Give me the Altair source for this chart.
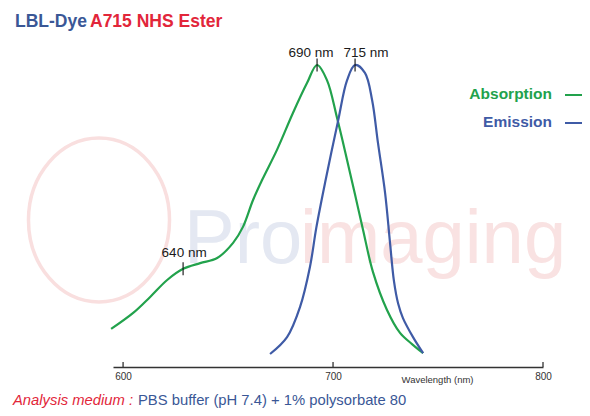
import altair as alt
import pandas as pd

# ---- data ----
abs_nm = [594.3, 604.8, 612.9, 621.0, 628.6, 636.7, 644.8, 652.4, 657.1, 661.9, 666.2,
          673.3, 680.9, 687.6, 692.4, 697.1, 701.9, 706.7, 710.5, 714.3, 719.0, 725.7,
          731.9, 737.6, 742.9]
abs_val = [12.6, 17.9, 23.2, 28.8, 32.5, 34.4, 36.1, 41.1, 46.4, 55.3, 61.9,
           71.9, 84.1, 94.0, 100.0, 95.0, 82.5, 68.5, 57.0, 45.4, 31.5, 18.9,
           11.3, 7.6, 4.6]
em_nm = [670.0, 678.1, 684.3, 689.0, 692.0, 696.2, 702.4, 706.7, 710.5, 715.2, 718.6,
         721.4, 724.8, 727.1, 729.0, 731.0, 733.3, 738.1, 742.9]
em_val = [4.3, 9.9, 19.9, 33.1, 46.0, 61.0, 81.5, 95.0, 100.0, 97.4, 88.4,
          74.2, 57.6, 41.4, 28.5, 21.0, 16.2, 9.9, 4.6]

series = ["Absorption", "Emission"]
series_colors = ["#22a24c", "#3f5ba6"]

peak_labels = ["640 nm", "690 nm", "715 nm"]
peak_nm = [628.6, 692.4, 710.5]
peak_val = [32.5, 100.0, 100.0]

tick_values = [600, 700, 800]

title_parts = ["LBL-Dye", "A715 NHS Ester"]
medium_parts = ["Analysis medium :", "PBS buffer (pH 7.4) + 1% polysorbate 80"]
watermark_parts = ["Pro", "imaging"]

# ---- tables ----
curves = pd.concat([
    pd.DataFrame({"nm": abs_nm, "val": abs_val, "series": series[0]}),
    pd.DataFrame({"nm": em_nm, "val": em_val, "series": series[1]}),
])
peaks = pd.DataFrame({"label": peak_labels, "nm": peak_nm, "val": peak_val})
ticks = pd.DataFrame({"nm": tick_values})

W, H = 430, 302
FONT = "Liberation Sans"

xscale = alt.Scale(domain=[595.2, 800], nice=False, zero=False)
yscale = alt.Scale(domain=[0, 100], nice=False, zero=False)
cscale = alt.Scale(domain=series, range=series_colors)

one = pd.DataFrame({"k": [0]})


def txt(s, x, y, **kw):
    return alt.Chart(one).mark_text(text=s, **kw).encode(x=alt.value(x), y=alt.value(y))


layers = []

# watermark
layers.append(txt(watermark_parts[0], 71, 198, font=FONT, fontSize=76, color="#e4e8f2", align="left", baseline="alphabetic"))
layers.append(txt(watermark_parts[1], 187, 198, font=FONT, fontSize=76, color="#f9e2e2", align="left", baseline="alphabetic"))
ellipse = "M -0.86 0 A 0.86 1 0 1 1 0.86 0 A 0.86 1 0 1 1 -0.86 0 Z"
layers.append(alt.Chart(one).mark_point(shape=ellipse, size=26896, filled=False, stroke="#f9dfdf", strokeWidth=3.5, opacity=1)
              .encode(x=alt.value(-14), y=alt.value(155)))

# curves
base_x = alt.X("nm:Q", scale=xscale,
               axis=alt.Axis(values=tick_values, format="d", grid=False, ticks=False,
                             domainColor="#333333", domainWidth=1.5, labelFlush=False,
                             labelFont=FONT, labelFontSize=10, labelColor="#333333", labelPadding=4,
                             title="Wavelength (nm)", titleFont=FONT, titleFontSize=9.5,
                             titleFontWeight="normal", titleColor="#333333",
                             titleX=324, titleY=15, titleAlign="center", titleBaseline="alphabetic"))
layers.append(alt.Chart(curves).mark_line(interpolate="catmull-rom", strokeWidth=2.2, clip=False).encode(
    x=base_x,
    y=alt.Y("val:Q", scale=yscale, axis=None),
    color=alt.Color("series:N", scale=cscale, legend=None),
    detail="series:N",
))

# axis ticks (pointing up)
layers.append(alt.Chart(ticks).mark_rule(color="#333333", strokeWidth=1.3).encode(
    x=alt.X("nm:Q", scale=xscale), y=alt.value(H - 5), y2=alt.value(H)))

# peak markers
layers.append(alt.Chart(peaks).mark_tick(orient="vertical", size=13, thickness=1.6, color="#111111").encode(
    x=alt.X("nm:Q", scale=xscale), y=alt.Y("val:Q", scale=yscale)))
label_dx = [1, -6, 11]
label_dy = [-12, -8, -8]
for i in range(len(peak_labels)):
    layers.append(alt.Chart(peaks.iloc[[i]]).mark_text(font=FONT, fontSize=13.5, color="#1a1a1a",
                                                       align="center", baseline="alphabetic",
                                                       dx=label_dx[i], dy=label_dy[i]).encode(
        x=alt.X("nm:Q", scale=xscale), y=alt.Y("val:Q", scale=yscale), text="label:N"))

# title
layers.append(txt(title_parts[0], -98, -38, font=FONT, fontSize=17.5, fontWeight="bold", color="#3a5796", align="left", baseline="alphabetic"))
layers.append(txt(title_parts[1], -23, -38, font=FONT, fontSize=17.5, fontWeight="bold", color="#e2263a", align="left", baseline="alphabetic"))

# legend
leg_y = [34, 62]
for i, s in enumerate(series):
    layers.append(txt(s, 439, leg_y[i], font=FONT, fontSize=15.5, fontWeight="bold", color=series_colors[i], align="right", baseline="alphabetic"))
    layers.append(alt.Chart(one).mark_rule(color=series_colors[i], strokeWidth=2).encode(
        x=alt.value(452), x2=alt.value(472), y=alt.value(leg_y[i] - 4)))

# bottom note
layers.append(txt(medium_parts[0], -100, 340, font=FONT, fontSize=14.8, fontStyle="italic", color="#e2263a", align="left", baseline="alphabetic"))
layers.append(txt(medium_parts[1], 25, 340, font=FONT, fontSize=14.8, color="#3a5796", align="left", baseline="alphabetic"))

chart = alt.layer(*layers).properties(
    width=W, height=H,
    background="white",
    autosize=alt.AutoSizeParams(type="none"),
    padding={"left": 105, "top": 57, "right": 39, "bottom": 41},
).configure_view(strokeWidth=0, stroke="transparent")

chart.save("out.html", embed_options={"renderer": "svg", "actions": False})
